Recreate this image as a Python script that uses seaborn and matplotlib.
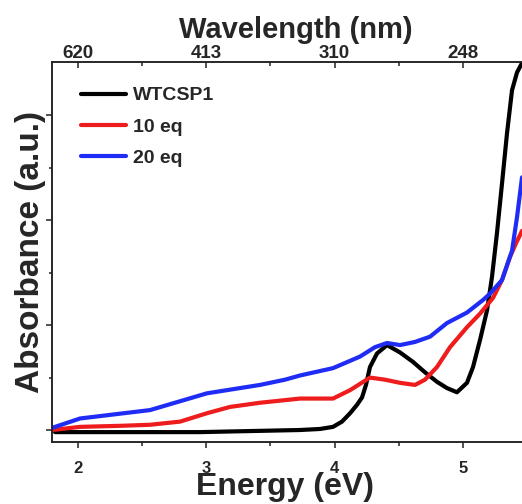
import numpy as np
import pandas as pd
import matplotlib
matplotlib.use("Agg")
import matplotlib.pyplot as plt
import seaborn as sns

# ---- data (energy in eV, absorbance in a.u.) ----
e_wt = [1.821, 2.171, 2.561, 2.951, 3.340, 3.730, 3.886, 3.987, 4.057, 4.120, 4.174, 4.213,
        4.244, 4.275, 4.330, 4.408, 4.509, 4.610, 4.704, 4.797, 4.875, 4.953, 5.031, 5.078,
        5.133, 5.187, 5.226, 5.265, 5.304, 5.343, 5.382, 5.421, 5.460]
a_wt = [-0.02, -0.02, -0.02, -0.02, -0.01, 0.00, 0.01, 0.03, 0.08, 0.16, 0.24, 0.31,
        0.43, 0.60, 0.73, 0.81, 0.74, 0.65, 0.55, 0.46, 0.40, 0.36, 0.45, 0.60,
        0.86, 1.14, 1.46, 1.88, 2.35, 2.83, 3.24, 3.41, 3.50]

e_10 = [1.797, 2.016, 2.327, 2.561, 2.795, 3.005, 3.184, 3.418, 3.730, 3.987, 4.120, 4.275,
        4.392, 4.509, 4.626, 4.704, 4.797, 4.899, 5.031, 5.133, 5.234, 5.304, 5.366, 5.413, 5.460]
a_10 = [0.00, 0.03, 0.04, 0.05, 0.08, 0.16, 0.22, 0.26, 0.30, 0.30, 0.38, 0.50,
        0.48, 0.45, 0.43, 0.48, 0.60, 0.79, 0.98, 1.11, 1.26, 1.43, 1.65, 1.78, 1.90]

e_20 = [1.797, 2.016, 2.561, 3.005, 3.418, 3.613, 3.730, 3.987, 4.197, 4.314, 4.408, 4.509,
        4.626, 4.743, 4.875, 5.031, 5.156, 5.210, 5.304, 5.382, 5.421, 5.460]
a_20 = [0.02, 0.11, 0.19, 0.35, 0.43, 0.48, 0.52, 0.59, 0.70, 0.79, 0.83, 0.81,
        0.84, 0.89, 1.02, 1.12, 1.24, 1.30, 1.43, 1.71, 2.03, 2.41]

series_names = ["WTCSP1", "10 eq", "20 eq"]
series_colors = ["#000000", "#ee1c1c", "#1f2cf5"]

energy_ticks = [2, 3, 4, 5]
energy_labels = ["2", "3", "4", "5"]
wavelength_labels = ["620", "413", "310", "248"]

df = pd.concat([
    pd.DataFrame({"E": e_wt, "A": a_wt, "sample": series_names[0]}),
    pd.DataFrame({"E": e_10, "A": a_10, "sample": series_names[1]}),
    pd.DataFrame({"E": e_20, "A": a_20, "sample": series_names[2]}),
], ignore_index=True)

sns.set_style("ticks")
plt.rcParams["font.family"] = ["Liberation Sans", "DejaVu Sans"]
plt.rcParams["font.weight"] = "bold"

W, H = 522, 504
fig = plt.figure(figsize=(W / 100, H / 100), dpi=100)
ax = fig.add_axes([52 / W, 62 / H, 472 / W, 380 / H])

sns.lineplot(data=df, x="E", y="A", hue="sample", palette=dict(zip(series_names, series_colors)),
             hue_order=series_names, sort=False, estimator=None, lw=3.0, ax=ax)

px_per_ev = 128.33
ax.set_xlim(2 - 26 / px_per_ev, 2 + (524 - 78) / px_per_ev)
ax.set_ylim(-12 / 105, (430 - 61.5) / 105)

for s in ["left", "bottom", "top", "right"]:
    ax.spines[s].set_linewidth(1.1)
    ax.spines[s].set_color("#222222")

ax.set_xticks(energy_ticks)
ax.set_xticklabels(energy_labels, fontsize=12, fontweight="bold")
ax.set_xticks([2.5, 3.5, 4.5], minor=True)
ax.set_yticks([0, 1, 2, 3])
ax.set_yticks([0.5, 1.5, 2.5], minor=True)
ax.set_yticklabels([])
ax.tick_params(axis="x", which="major", direction="out", length=4, width=1.1, pad=10, color="#222222")
ax.tick_params(axis="x", which="minor", direction="out", length=3, width=1.1, color="#222222")
ax.tick_params(axis="y", which="major", direction="out", length=4.5, width=1.1, color="#222222")
ax.tick_params(axis="y", which="minor", direction="out", length=2.5, width=1.1, color="#222222")

ax.set_xlabel("Energy (eV)", fontsize=23, fontweight="bold")
ax.xaxis.set_label_coords(0.494, -0.079)
ax.set_ylabel("Absorbance (a.u.)", fontsize=24, fontweight="bold")
ax.yaxis.set_label_coords(-0.012, 0.5)

ax2 = ax.twiny()
ax2.set_xlim(ax.get_xlim())
ax2.set_xticks(energy_ticks)
ax2.set_xticklabels(wavelength_labels, fontsize=13.5, fontweight="bold")
ax2.set_xticks([2.5, 3.5, 4.5], minor=True)
ax2.tick_params(axis="x", which="major", direction="in", length=4, width=1.1, pad=0, color="#222222")
ax2.tick_params(axis="x", which="minor", direction="in", length=3, width=1.1, color="#222222")
ax2.set_xlabel("Wavelength (nm)", fontsize=21, fontweight="bold")
ax2.xaxis.set_label_coords(0.516, 1.062)
for s in ax2.spines.values():
    s.set_linewidth(1.1)
    s.set_color("#222222")

leg = ax.legend(loc="upper left", bbox_to_anchor=(0.045, 0.955), frameon=False,
                prop={"weight": "bold", "size": 14}, handlelength=2.3, handletextpad=0.36,
                labelspacing=0.7, borderaxespad=0)
for line in leg.get_lines():
    line.set_linewidth(3.0)

fig.savefig("out.png", dpi=100)
